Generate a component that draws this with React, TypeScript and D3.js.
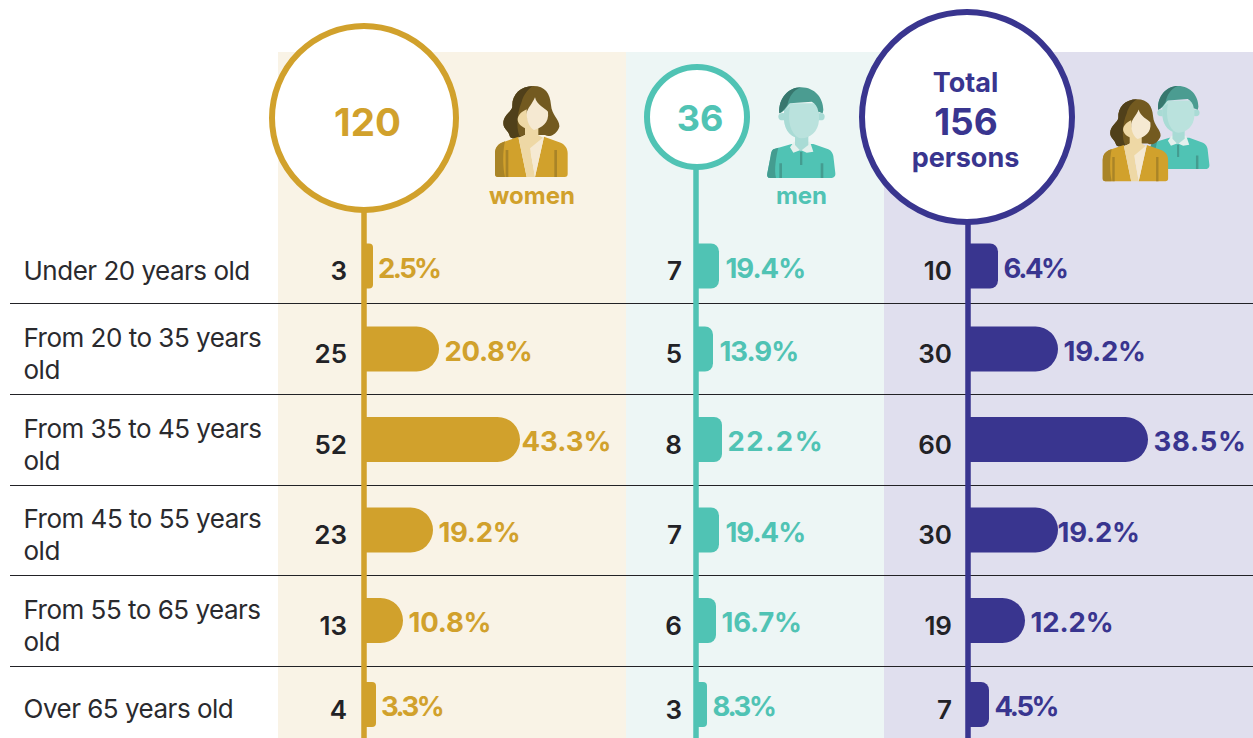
import React from "react";
import * as d3 from "d3";

const ageGroups = [["Under 20 years old"], ["From 20 to 35 years", "old"], ["From 35 to 45 years", "old"], ["From 45 to 55 years", "old"], ["From 55 to 65 years", "old"], ["Over 65 years old"]];
const womenCounts = [3, 25, 52, 23, 13, 4];
const womenPct = ["2.5%", "20.8%", "43.3%", "19.2%", "10.8%", "3.3%"];
const menCounts = [7, 5, 8, 7, 6, 3];
const menPct = ["19.4%", "13.9%", "22.2%", "19.4%", "16.7%", "8.3%"];
const totalCounts = [10, 30, 60, 30, 19, 7];
const totalPct = ["6.4%", "19.2%", "38.5%", "19.2%", "12.2%", "4.5%"];
const rowCenters = [266, 349, 439.5, 530, 620.5, 704.5];
const separators = [303, 394, 485, 575, 666];

const FONT = "Inter, 'Noto Sans', sans-serif";
const GOLD = "#d1a12c";
const TEAL = "#50c3b4";
const NAVY = "#39358f";
const INK = "#222226";
const G_DARK = "#a98427";
const G_PALE = "#eed8a5";
const CREAM = "#f5e9d2";
const T_DARK = "#449c90";
const T_SKIN = "#bae2dd";
const T_SKIN2 = "#a9dbd5";

function Woman({ x, y, s = 1 / 3 }: { x: number; y: number; s?: number }) {
  return (
    <g transform={`translate(${x},${y}) scale(${s})`}>
      <path d="M190 48C150 48 125 75 127 110C125 125 100 135 100 160C100 178 115 180 120 200C125 208 150 205 165 195L225 195C240 205 262 190 268 170C270 150 245 135 243 105C240 70 225 48 190 48Z" fill="#735a20" />
      <path d="M190 48C150 48 125 75 127 110C125 125 100 135 100 160C100 178 115 180 120 200C125 207 140 207 150 200C138 180 140 130 155 95C160 75 175 55 190 48Z" fill="#50401a" />
      <path d="M165 165L165 195L145 205L180 250L222 205L205 195L205 165Z" fill={G_PALE} />
      <path d="M170 118C155 125 143 135 143 150C145 165 160 175 185 182L195 180C180 170 170 150 170 118Z" fill={G_PALE} />
      <path d="M195 82C188 100 172 115 170 130C170 155 180 175 192 180C215 172 238 160 234 125C225 115 200 105 195 82Z" fill={CREAM} />
      <path d="M145 200L95 218C82 224 75 235 75 250L75 312C75 318 78 321 84 321L284 321C290 321 293 318 293 312L293 250C293 235 285 224 272 218L222 200L195 321L170 321Z" fill={GOLD} />
      <path d="M105 214L95 218C82 224 75 235 75 250L75 312C75 318 78 321 84 321L105 321C98 290 98 245 105 214Z" fill={G_DARK} />
      <path d="M107 240h8v81h-8zM253 240h8v81h-8z" fill={G_DARK} />
      <path d="M145 200L170 321L195 321L180 235Z" fill={G_PALE} />
      <path d="M222 200L195 321L180 235Z" fill={CREAM} />
    </g>
  );
}

function Man({ x, y, s = 1 / 3 }: { x: number; y: number; s?: number }) {
  return (
    <g transform={`translate(${x},${y}) scale(${s})`}>
      <path d="M70 238L125 222L190 222L235 238C245 243 248 250 250 258L256 310C257 320 250 324 245 324L60 324C54 324 50 320 52 310L62 258C63 250 64 243 70 238Z" fill={TEAL} />
      <path d="M70 238L85 233C78 260 72 300 78 324L60 324C54 324 50 320 52 310L62 258C63 250 64 243 70 238Z" fill={T_DARK} />
      <path d="M88 280h8v44h-8zM212 280h8v44h-8zM150 245h7v40h-7z" fill={T_DARK} />
      <path d="M132 215L120 232L130 248L152 240L170 248L190 245L180 215Z" fill="#e4f0ed" />
      <path d="M135 185L135 225L152 243L175 225L175 185Z" fill={T_SKIN2} />
      <ellipse cx={98} cy={140} rx={13} ry={11} fill={T_SKIN2} />
      <ellipse cx={212} cy={140} rx={12} ry={11} fill={T_SKIN2} />
      <path d="M102 100L207 100L207 150C205 185 180 205 155 205C130 205 105 185 102 150Z" fill={T_SKIN} />
      <path d="M102 120L120 110C112 150 120 190 148 205C125 203 105 185 102 150Z" fill={T_SKIN2} />
      <path d="M88 130C85 85 115 52 153 52C195 52 220 85 220 120L218 130L205 125C203 110 195 100 185 95L120 100C112 105 105 125 88 130Z" fill="#4b9c91" />
      <path d="M88 130C85 85 115 52 153 52C130 60 118 80 112 105C105 115 98 125 88 130Z" fill="#37776e" />
    </g>
  );
}

type ColProps = { axisX: number; axisW: number; color: string; counts: number[]; pct: string[]; scale: d3.ScaleLinear<number, number>; countX: number; labelGap: number[]; labelTrack: number[]; };

function Column({ axisX, axisW, color, counts, pct, scale, countX, labelGap, labelTrack }: ColProps) {
  const h = 45;
  const fs = 27.5;
  return (
    <g>
      <rect x={axisX - axisW / 2} y={110} width={axisW} height={628} fill={color} />
      {counts.map((c, i) => {
        const cy = rowCenters[i];
        const x1 = scale(c);
        const w = x1 - axisX;
        const rr = w >= 35 ? h / 2 : w > 15 ? 8 : 4;
        const d = `M${axisX} ${cy - h / 2}H${x1 - rr}A${rr} ${rr} 0 0 1 ${x1} ${cy - h / 2 + rr}V${cy + h / 2 - rr}A${rr} ${rr} 0 0 1 ${x1 - rr} ${cy + h / 2}H${axisX}Z`;
        return (
          <g key={i}>
            <path d={d} fill={color} />
            <text x={countX} y={cy + 14} textAnchor="end" fontFamily={FONT} fontWeight={600} fontSize={26} fill={INK}>{c}</text>
            <text x={x1 + labelGap[i]} y={cy + 2 + fs * 0.36} fontFamily={FONT} fontWeight={700} fontSize={fs} fill={color} letterSpacing={labelTrack[i]}>{pct[i]}</text>
          </g>
        );
      })}
    </g>
  );
}

export default function App() {
  const wX = d3.scaleLinear().domain([0, 60]).range([364, 544]);
  const mX = d3.scaleLinear().domain([0, 8]).range([698, 722]);
  const tX = d3.scaleLinear().domain([0, 60]).range([968, 1148]);
  return (
    <svg width={1253} height={738} style={{ position: "absolute", left: 0, top: 0, background: "#fff" }}>
      <rect x={278} y={52} width={348} height={686} fill="#f9f3e6" />
      <rect x={626} y={52} width={258} height={686} fill="#edf6f5" />
      <rect x={884} y={52} width={369} height={686} fill="#e0dfee" />

      {separators.map(y => <line key={y} x1={10} x2={1253} y1={y + 0.5} y2={y + 0.5} stroke={INK} strokeWidth={1.2} />)}

      {ageGroups.map((lines, i) => {
        const cy = rowCenters[i] + 5;
        return (
          <text key={i} fontFamily={FONT} fontSize={26} fill="#2a2a2e" fontWeight={400} letterSpacing={-0.5}>
            {lines.map((t, j) => (
              <tspan key={j} x={23.5} y={lines.length === 1 ? Math.floor(cy + 9) : cy - 7 + j * 32}>{t}</tspan>
            ))}
          </text>
        );
      })}

      <Column axisX={364} axisW={5.5} color={GOLD} counts={womenCounts} pct={womenPct} scale={wX} countX={347} labelGap={[5, 5.5, 1.5, 5.5, 5.5, 5]} labelTrack={[-2.6, -0.3, 0, -0.3, -0.2, -2.6]} />
      <Column axisX={696} axisW={5.5} color={TEAL} counts={menCounts} pct={menPct} scale={mX} countX={682} labelGap={[6.5, 6.5, 5.5, 6.5, 5.5, 5.5]} labelTrack={[-1, -1, 1.5, -1, -0.2, -2.4]} />
      <Column axisX={968} axisW={5.5} color={NAVY} counts={totalCounts} pct={totalPct} scale={tX} countX={952} labelGap={[5.5, 5.5, 5.5, -0.5, 5.5, 5.5]} labelTrack={[-2.4, -0.2, 0.7, -0.2, -0.1, -2.4]} />

      <circle cx={364} cy={118} r={92} fill="#fff" stroke={GOLD} strokeWidth={6} />
      <circle cx={697} cy={117} r={50} fill="#fff" stroke={TEAL} strokeWidth={6} />
      <circle cx={967} cy={117} r={105} fill="#fff" stroke={NAVY} strokeWidth={6} />

      <text x={367.5} y={136} textAnchor="middle" fontFamily={FONT} fontWeight={700} fontSize={38.5} fill={GOLD}>120</text>
      <text x={700} y={131} textAnchor="middle" fontFamily={FONT} fontWeight={700} fontSize={36} fill={TEAL}>36</text>
      <text x={965.5} y={92} textAnchor="middle" fontFamily={FONT} fontWeight={700} fontSize={27} fill={NAVY}>Total</text>
      <text x={966} y={134.5} textAnchor="middle" fontFamily={FONT} fontWeight={700} fontSize={37} fill={NAVY}>156</text>
      <text x={965.5} y={167} textAnchor="middle" fontFamily={FONT} fontWeight={700} fontSize={27} fill={NAVY}>persons</text>

      <Woman x={470} y={70} />
      <text x={532} y={204} textAnchor="middle" fontFamily={FONT} fontWeight={700} fontSize={24} fill={GOLD}>women</text>
      <Man x={750} y={70} />
      <text x={801.5} y={204} textAnchor="middle" fontFamily={FONT} fontWeight={700} fontSize={24} fill={TEAL}>men</text>

      <Man x={1131.3} y={70.1} s={0.305} />
      <Woman x={1080.2} y={84.9} s={0.3} />
    </svg>
  );
}
